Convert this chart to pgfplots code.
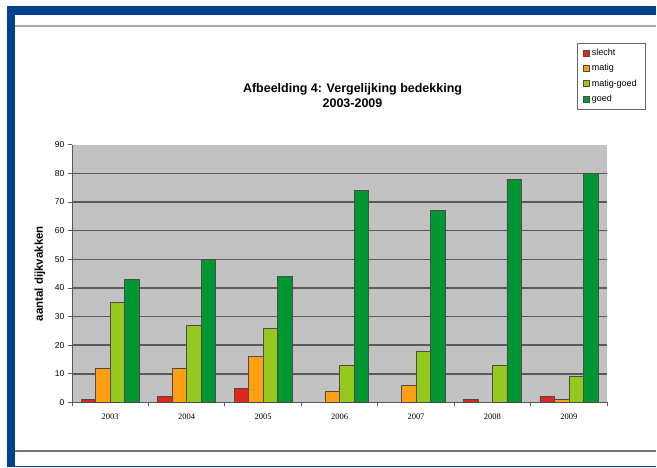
\documentclass[border=0pt]{standalone}
\usepackage{pgfplots}
\pgfplotsset{compat=1.18}
\usepackage{fontspec}
\setmainfont{Liberation Sans}
\newfontfamily\seriffont{Liberation Serif}
\definecolor{frameblue}{RGB}{0,64,140}
\definecolor{plotgray}{RGB}{194,194,194}
\definecolor{gridgray}{RGB}{90,90,90}
\definecolor{cslecht}{RGB}{222,40,30}
\definecolor{cmatig}{RGB}{255,160,20}
\definecolor{cmatiggoed}{RGB}{150,200,30}
\definecolor{cgoed}{RGB}{0,150,50}
\begin{document}
\begin{tikzpicture}
\fill[white] (0pt,0pt) rectangle (657pt,468pt);
\fill[frameblue] (7pt,0pt) rectangle (15pt,462pt);
\fill[frameblue] (7pt,453pt) rectangle (657pt,462pt);
\fill[frameblue] (7pt,0pt) rectangle (657pt,1.5pt);
\draw[black!35, line width=1.8pt] (15pt,442pt) -- (657pt,442pt);
\draw[black!55, line width=1.8pt] (15pt,16pt) -- (657pt,16pt);
\node[font=\bfseries\fontsize{12.5}{15}\selectfont, align=center] at (353pt,372pt) {Afbeelding 4: Vergelijking bedekking\\2003-2009};
\node[font=\bfseries\fontsize{11.5}{13}\selectfont, rotate=90] at (40pt,194pt) {aantal dijkvakken};
\begin{axis}[
  at={(72pt,65pt)}, anchor=south west,
  scale only axis, width=536pt, height=258pt,
  xmin=-0.5, xmax=6.5, ymin=0, ymax=90,
  axis background/.style={fill=plotgray},
  axis x line*=bottom, axis y line*=left,
  axis line style={gridgray, line width=0.8pt, -},
  xtick={0,1,2,3,4,5,6},
  xticklabels={2003,2004,2005,2006,2007,2008,2009},
  major x tick style={draw=none},
  minor xtick={-0.5,0.5,1.5,2.5,3.5,4.5,5.5,6.5},
  minor x tick style={gridgray, line width=0.8pt},
  minor tick length=4pt,
  x tick label style={font=\seriffont\fontsize{8.5}{9}\selectfont, yshift=-4pt},
  ytick={0,10,...,80},
  extra y ticks={90}, extra y tick style={grid=none},
  y tick style={gridgray, line width=0.8pt},
  tick align=outside, major tick length=4pt,
  ymajorgrids, grid style={gridgray, line width=1.5pt},
  y tick label style={font=\fontsize{8.5}{9}\selectfont},
  /pgf/number format/assume math mode=true,
  ybar, bar width=14.5pt,
  every axis plot/.append style={draw=black!70, line width=0.5pt},
  legend image code/.code={\draw[#1, line width=0.4pt] (0pt,-3pt) rectangle (6pt,3pt);},
  legend style={at={(0.944,1.395)}, anchor=north west, draw=black!60,
    font=\fontsize{9}{10}\selectfont, row sep=3.2pt, inner xsep=6pt, inner ysep=4pt},
  legend cell align=left,
]
\addplot[fill=cslecht, bar shift=-21.75pt] coordinates {(0,1) (1,2) (2,5) (5,1) (6,2)};
\addlegendentry{slecht}
\addplot[fill=cmatig, bar shift=-7.25pt] coordinates {(0,12) (1,12) (2,16) (3,4) (4,6) (6,1)};
\addlegendentry{matig}
\addplot[fill=cmatiggoed, bar shift=7.25pt] coordinates {(0,35) (1,27) (2,26) (3,13) (4,18) (5,13) (6,9)};
\addlegendentry{matig-goed}
\addplot[fill=cgoed, bar shift=21.75pt] coordinates {(0,43) (1,50) (2,44) (3,74) (4,67) (5,78) (6,80)};
\addlegendentry{goed}
\end{axis}
\end{tikzpicture}
\end{document}
